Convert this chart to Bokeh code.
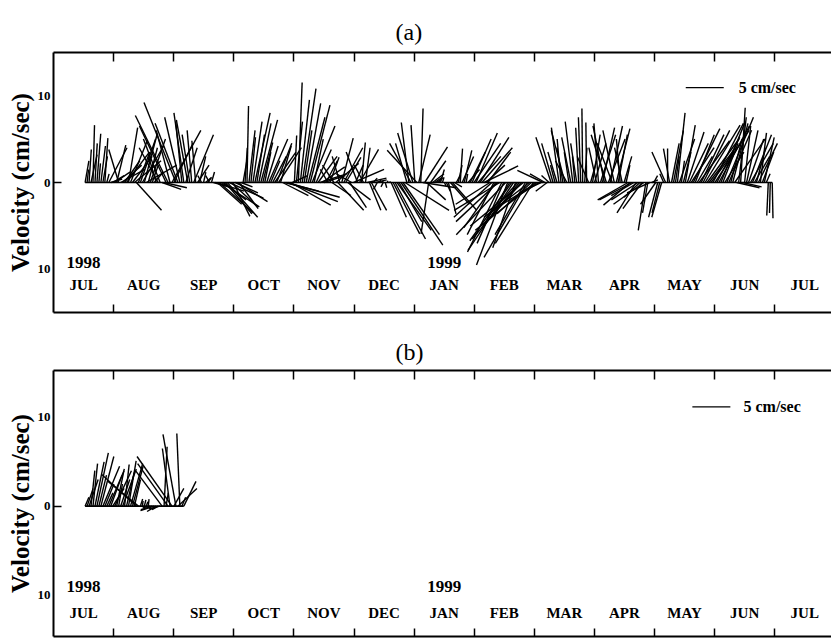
from bokeh.plotting import figure
from bokeh.models import LinearAxis, FixedTicker, Range1d, Title, CustomJSTickFormatter
from bokeh.layouts import column
from bokeh.embed import file_html
from bokeh.resources import INLINE
from bokeh.core.properties import value

# ---------------- data ----------------
months = ["JUL", "AUG", "SEP", "OCT", "NOV", "DEC", "JAN", "FEB", "MAR", "APR", "MAY", "JUN", "JUL"]
years = ["1998", "1999"]
year_month_index = [0, 6]
y_ticks = [-10, 0, 10]
scale_speed = 5  # cm/sec
scale_text = "5 cm/sec"

# panel (a): days since 1 Jul 1998 -- even days
a_days_even = list(range(16, 365, 2))
a_u_even = [0.5, 0.3, 0.2, 0.5, 0.6, 0.4, 2.4, 1.5, 1.2, 3.2,
            2.0, 1.2, 2.6, 3.3, 2.0, 1.7, 1.2, 0.8, -1.0, -2.2,
            3.0, -4.3, 3.8, -4.2, -2.0, -1.3, -1.5, -0.6, -0.5, 0.8,
            0.3, 0.5, 0.4, 3.8, 4.5, 3.0, 4.0, 3.5, 3.0, 2.5,
            0.5, 0.2, 0.6, 2.0, 1.6, 1.3, 1.5, 1.2, 2.8, 3.0,
            3.4, 7.0, 5.3, 0.3, 0.5, 1.8, 1.9, 2.6, 1.2, 2.5,
            3.0, 1.5, 1.2, -1.5, 3.4, 1.5, 2.0, 2.2, 4.0, -1.5,
            0.5, 0.6, 1.5, 0.5, -0.5, 0.3, 0.2, 0.2, 3.5, 4.5,
            5.5, 5.8, -1.0, -2.0, -3.9, 0.3, 3.0, -1.0, 1.5, 0.8,
            0.5, 0.2, 1.0, 3.2, 0.5, 0.3, 1.0, 1.5, 2.5, 2.8,
            3.8, 4.5, 3.0, -5.0, -4.2, -6.0, -3.5, -4.1, -5.5, -3.0,
            -5.0, -7.0, -5.7, -4.5, -7.9, -3.8, -3.4, -1.5, -2.0, -0.6,
            -1.0, -0.8, -1.5, -1.2, -0.3, -0.4, -0.1, -0.1, 0.8, 1.5,
            -0.6, 1.6, -2.0, 1.6, -1.5, 1.2, -1.0, 0.5, -3.5, -3.0,
            -3.5, -2.5, -1.0, -3.0, 0.5, -1.2, -1.3, -1.8, -0.8, 1.3,
            1.0, 0.4, 1.3, 2.5, 3.5, 2.0, 3.0, 4.6, 3.5, 4.0,
            3.0, 3.2, 2.5, 3.0, 2.0, 3.0, 0.6, 0.8, 2.0, 2.5,
            1.2, 0.8, 1.3, -0.2, 0.1]
a_v_even = [2.5, 3.8, 6.6, 5.6, 4.2, 5.1, 4.0, 0.8, 4.3, 1.5,
            2.5, 6.3, 3.0, -3.2, 5.0, 5.6, 4.0, 2.0, 3.0, 5.0,
            -0.6, 7.7, 6.0, 9.2, 7.5, 8.0, 7.2, 6.0, 4.8, 3.0,
            1.2, 0.5, 1.2, -1.0, -3.5, -2.0, -4.0, -2.8, -1.2, -3.0,
            2.5, 8.8, 5.2, 8.0, 6.8, 4.6, 4.2, 2.5, 3.5, 4.0,
            -1.5, -1.7, -2.6, 5.4, 11.5, 10.8, 9.1, 8.9, 5.0, 3.0,
            1.8, 2.5, 2.9, 2.0, -3.2, 5.1, 2.9, -2.9, 1.5, 3.5,
            4.6, 4.0, -3.2, 0.5, -0.8, 0.2, -0.6, 0.1, -5.9, -5.5,
            -7.2, -3.2, 6.9, 5.7, 3.7, 8.5, 4.1, -5.9, 1.0, 0.5,
            1.5, -0.4, -3.6, -3.2, 0.8, 3.9, 3.7, 1.5, 5.0, 5.7,
            5.2, 1.9, 3.5, -4.0, -5.2, -3.2, -7.0, -9.5, -6.7, -7.5,
            -5.2, -5.0, -8.6, -3.6, -5.5, -2.1, 1.4, -1.0, 5.2, 2.0,
            6.3, 4.0, 2.5, 5.2, 3.0, 6.3, 8.5, 6.9, 2.5, 4.5,
            6.8, 6.3, 5.5, 6.5, 6.0, 5.5, 4.0, 2.0, -2.6, -1.5,
            -2.0, -3.0, -5.5, -1.2, 0.8, -4.0, -4.0, 3.5, 3.9, 6.0,
            8.0, 2.5, 6.6, 4.5, 6.2, 3.0, 5.5, 6.6, 4.0, 6.8,
            5.2, 7.0, 3.5, 6.0, 6.8, -0.6, 8.6, 6.5, 5.0, 5.5,
            4.0, 5.7, 5.2, -3.8, -4.1]

# panel (a): odd days
a_days_odd = list(range(17, 364, 2))
a_u_odd = [0.2, 0.8, 0.3, 0.2, 0.6, 0.3, 1.5, 2.0, -1.3, 2.5,
           3.0, 2.2, 3.5, 1.5, 2.8, 4.0, 2.0, 1.2, -2.5, 2.5,
           -3.5, -1.8, 2.5, -3.0, -0.8, 1.5, -1.0, 2.6, 1.5, -0.5,
           0.8, -0.5, 2.0, 3.2, 5.0, 3.5, 4.5, 2.2, 4.0, 1.5,
           0.3, 0.8, 1.2, 1.0, 2.2, 0.8, 2.5, 1.8, 2.0, 1.4,
           4.5, 6.5, 2.0, 0.8, 1.2, 1.0, 2.2, 3.0, 2.0, 3.5,
           2.8, -1.0, 2.5, 3.0, -1.0, 2.5, 3.0, -2.0, 1.0, 2.5,
           -1.2, 2.5, 2.0, 1.5, 0.2, -0.3, 0.1, 2.0, 4.0, 3.0,
           4.8, -1.5, -2.8, -0.5, 1.5, 4.4, 2.5, 2.0, 1.0, 0.3,
           0.2, 0.5, 2.5, 1.0, 0.5, 1.5, 0.2, 2.0, 3.5, 3.0,
           4.0, 2.5, -4.5, -3.5, -5.5, -4.5, -6.5, -3.5, -6.0, -4.0,
           -6.5, -4.0, -6.0, -5.0, -5.5, -2.5, -2.0, -1.0, -1.5, -1.2,
           -0.5, -1.8, -0.6, -1.0, -0.8, -0.3, 0.3, -1.5, 1.0, -1.0,
           2.0, -1.5, 2.2, -2.0, 1.8, -0.5, 1.0, -4.0, -4.3, -2.5,
           -2.1, -4.0, -0.7, 0.8, -2.0, -1.0, -0.5, 0.0, 1.0, 0.5,
           2.0, 1.0, 2.2, 3.0, 2.5, 4.0, 3.5, 4.2, 3.0, 4.5,
           4.0, 2.0, 3.5, 1.5, 4.0, 1.0, 2.5, 1.5, 3.0, 2.0,
           2.5, 1.5, 0.5, -0.1]
a_v_odd = [1.5, 3.2, 4.5, 2.2, 3.0, 1.0, 0.4, 1.2, 3.8, 2.0,
           3.5, 4.8, 2.5, 3.5, 4.2, 2.0, 5.0, 1.2, 4.0, -0.8,
           6.5, 6.0, 4.5, 6.8, 7.0, 4.0, 5.5, 5.5, 2.0, 0.8,
           0.6, 0.8, -0.5, -2.5, -2.8, -3.6, -1.8, -3.9, -2.2, -0.5,
           4.0, 6.0, 7.0, 5.5, 7.2, 3.5, 5.0, 3.0, 4.5, 4.2,
           -1.0, -2.2, 0.8, 7.0, 9.5, 6.0, 7.5, 6.5, 3.8, 1.0,
           0.8, 1.5, -1.5, 2.2, 3.0, 4.0, -2.0, 1.0, 2.0, 3.8,
           2.0, 0.5, -3.2, 0.3, 0.3, -0.5, 0.2, -4.0, -6.5, -4.5,
           -6.0, 4.5, 4.5, 6.6, 5.5, -0.6, -2.0, 2.5, 0.6, 0.4,
           0.6, -1.0, -2.5, -0.5, 2.0, 3.0, 1.0, 3.5, 4.5, 3.0,
           4.0, 2.0, -2.5, -6.0, -4.5, -8.0, -6.0, -5.0, -7.8, -4.0,
           -6.5, -6.0, -4.0, -7.0, -3.0, -1.0, 1.0, 0.8, 4.5, 3.5,
           5.0, 6.0, 3.5, 7.0, 4.5, 7.5, 4.0, 3.0, 5.5, 4.0,
           5.5, 6.5, 5.0, 4.5, 6.2, 5.0, 3.0, -2.0, -2.0, -3.5,
           -1.7, -2.5, -3.5, 0.3, -2.5, -3.5, 1.0, 3.9, 4.5, 3.0,
           5.0, 3.5, 5.8, 4.0, 5.5, 4.8, 6.0, 5.0, 3.5, 6.0,
           6.5, 4.5, 7.5, 5.0, 5.0, 7.5, -0.5, 6.0, 4.5, 3.0,
           4.5, 3.5, 1.0, -3.5]

# panel (b): short record, July-August 1998
b_days_even = list(range(16, 67, 2))
b_u_even = [0.5, 1.2, 0.6, 1.5, 1.7, 1.2, 2.0, 1.5, 1.0, 1.2,
            0.6, 1.0, 1.4, -4.6, 0.3, 0.2, 0.1, -1.5, -1.2, -1.5,
            0.4, -4.0, -4.6, -1.7, -0.4, 1.6]
b_v_even = [1.0, 3.0, 4.8, 6.0, 5.6, 2.5, 4.0, 2.0, 4.2, 3.0,
            4.7, 5.1, 4.5, 3.6, 0.8, 0.7, 0.8, -0.4, -0.6, -0.3,
            6.7, 4.8, 5.6, 8.1, 8.2, 2.8]
b_days_odd = list(range(17, 66, 2))
b_u_odd = [0.8, 0.5, 1.2, 1.0, 2.2, 0.8, 1.5, 2.2, 0.5, 1.8,
           1.0, 1.6, 0.8, -4.0, 0.1, 0.2, -1.0, -1.8, -0.8, -3.5,
           0.3, -1.0, 1.3, 2.5, 0.5]
b_v_odd = [2.0, 4.0, 5.0, 3.5, 4.5, 1.5, 3.5, 4.0, 2.5, 4.2,
           3.8, 4.8, 3.0, 2.8, 0.6, 0.5, -0.2, -0.5, -0.4, 4.0,
           1.5, 6.5, 2.0, 2.0, 1.0]

# ---------------- layout constants ----------------
FIG_W = 831
BORDER_L = 53
FRAME_W = FIG_W - BORDER_L
PX_PER_MONTH = 60.1
DAYS_PER_MONTH = 365.25 / 12
U_PX_PER_CMS = 7.6  # horizontal pixels per cm/sec for sticks
SERIF = "Liberation Serif"


def to_month(d):
    return d / DAYS_PER_MONTH


def make_panel(label, days, u, v, y_lo, y_hi, height, border_top, border_bottom,
               title_offset, title_standoff, year_y, month_y, bar_x, bar_y, bar_text_x):
    x_hi = FRAME_W / PX_PER_MONTH
    p = figure(width=FIG_W, height=height, x_range=Range1d(0, x_hi),
               y_range=Range1d(y_lo, y_hi), output_backend="svg",
               toolbar_location=None, x_axis_location=None, y_axis_location=None,
               min_border_left=BORDER_L, min_border_right=0,
               min_border_top=border_top, min_border_bottom=border_bottom)
    p.outline_line_color = None
    p.xgrid.visible = False
    p.ygrid.visible = False
    p.background_fill_color = "white"

    k = U_PX_PER_CMS / PX_PER_MONTH
    x0 = [to_month(d) for d in days]
    x1 = [xx + uu * k for xx, uu in zip(x0, u)]
    y0 = [0.0] * len(days)
    # baseline along the record
    p.segment(x0=[min(x0)], y0=[0], x1=[max(x0)], y1=[0], line_color="black", line_width=1.6)
    p.segment(x0=x0, y0=y0, x1=x1, y1=v, line_color="black", line_width=1.4)

    # month ticks, top and bottom (no labels)
    month_ticks = list(range(1, len(months)))
    for loc, tin in (("above", 9), ("below", 8)):
        ax = LinearAxis(ticker=FixedTicker(ticks=month_ticks, minor_ticks=[]),
                        major_tick_in=tin, major_tick_out=0,
                        major_tick_line_width=1.5, axis_line_width=2,
                        formatter=CustomJSTickFormatter(code="return '';"),
                        major_label_standoff=0, minor_tick_line_color=None)
        p.add_layout(ax, loc)

    ay = LinearAxis(ticker=FixedTicker(ticks=y_ticks, minor_ticks=[0]),
                    major_tick_line_color=None, major_tick_in=0, major_tick_out=0,
                    minor_tick_in=8, minor_tick_out=0, minor_tick_line_width=1.5,
                    minor_tick_line_color="black", axis_line_width=2,
                    formatter=CustomJSTickFormatter(code="return String(Math.abs(tick));"),
                    major_label_text_font=SERIF, major_label_text_font_style="bold",
                    major_label_text_font_size="13px", major_label_standoff=3,
                    major_label_text_color="black",
                    axis_label="Velocity (cm/sec)", axis_label_text_font=SERIF,
                    axis_label_text_font_style="bold", axis_label_text_font_size="25px",
                    axis_label_text_color="black", axis_label_standoff=1)
    p.add_layout(ay, "left")

    p.title = Title(text=label, align="left", offset=title_offset,
                    text_font=SERIF, text_font_style="normal", text_color="black",
                    text_font_size="24px", standoff=title_standoff)

    # month & year labels inside the frame
    mx = [i + 0.5 for i in range(len(months))]
    p.text(x=mx, y=[month_y] * len(months), text=months, text_font=value(SERIF),
           text_font_style="bold", text_font_size="15px", text_align="center",
           text_baseline="middle", text_color="black")
    yx = [i + 0.5 for i in year_month_index]
    p.text(x=yx, y=[year_y] * len(years), text=years, text_font=value(SERIF),
           text_font_style="bold", text_font_size="17px", text_align="center",
           text_baseline="middle", text_color="black")

    # scale bar
    p.segment(x0=[bar_x], y0=[bar_y], x1=[bar_x + scale_speed * k], y1=[bar_y],
              line_color="black", line_width=1.2)
    p.text(x=[bar_text_x], y=[bar_y], text=[scale_text], text_font=value(SERIF),
           text_font_style="bold", text_font_size="16px", text_align="left",
           text_baseline="middle", text_color="black")
    return p


pa = make_panel("(a)", a_days_even + a_days_odd, a_u_even + a_u_odd, a_v_even + a_v_odd,
                -14.95, 14.95, 330, 52, 18, 342, 15, -9.2, -11.8, 10.52, 10.9, 11.4)
pb = make_panel("(b)", b_days_even + b_days_odd, b_u_even + b_u_odd, b_v_even + b_v_odd,
                -14.7, 15.3, 309, 39, 3, 342, 12, -9.1, -12.0, 10.63, 11.2, 11.48)

layout = column(pa, pb, spacing=0)
open("out.html", "w").write(file_html(layout, INLINE))
